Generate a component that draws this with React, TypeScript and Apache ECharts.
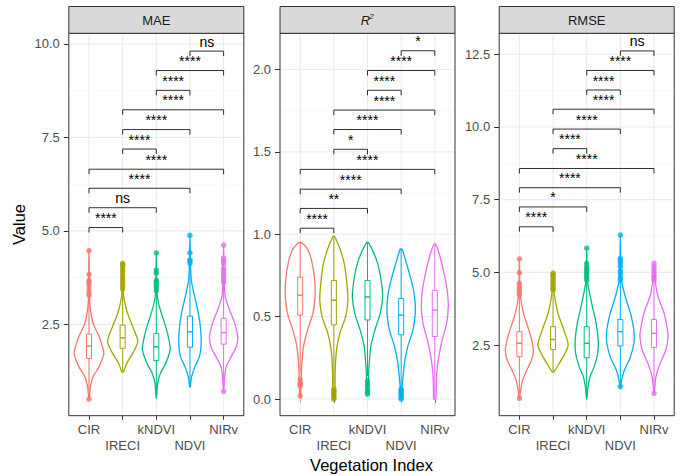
import React, { useEffect, useRef } from 'react';
import * as echarts from 'echarts';

const FONT = 'Liberation Sans, Arial, Helvetica, sans-serif';

const CATS = ['CIR', 'IRECI', 'kNDVI', 'NDVI', 'NIRv'];
const COLORS = ['#F8766D', '#A3A500', '#00BF7D', '#00B0F6', '#E76BF3'];
const FACETS = ['MAE', 'R2', 'RMSE'];

// y ranges of each facet and its breaks
const Y_RANGES = [[0.057, 10.286], [-0.101, 2.22], [0.07, 13.22]];
const Y_MAJOR = [[2.5, 5, 7.5, 10], [0, 0.5, 1, 1.5, 2], [2.5, 5, 7.5, 10, 12.5]];
const Y_MINOR = [[1.25, 3.75, 6.25, 8.75], [0.25, 0.75, 1.25, 1.75], [1.25, 3.75, 6.25, 8.75, 11.25]];

// box stats: [lower whisker, Q1, median, Q3, upper whisker]
const MAE_BOX = [
  [0.7, 1.59, 1.92, 2.24, 3.2],
  [1.23, 1.86, 2.14, 2.48, 3.38],
  [0.52, 1.53, 1.9, 2.26, 3.35],
  [0.85, 1.89, 2.3, 2.72, 3.95],
  [1.0, 1.97, 2.28, 2.66, 3.58],
];
const R2_BOX = [
  [0.16, 0.51, 0.63, 0.74, 0.95],
  [0.08, 0.45, 0.6, 0.72, 0.98],
  [0.14, 0.48, 0.62, 0.72, 0.95],
  [0.07, 0.39, 0.51, 0.61, 0.91],
  [0.0, 0.38, 0.54, 0.66, 0.94],
];
const RMSE_BOX = [
  [0.85, 2.1, 2.56, 2.96, 4.15],
  [1.58, 2.35, 2.69, 3.13, 4.25],
  [0.63, 2.06, 2.56, 3.13, 4.7],
  [1.15, 2.47, 2.96, 3.38, 4.7],
  [1.0, 2.42, 2.9, 3.38, 4.7],
];

// outliers
const MAE_OUT = [
  [3.28, 3.35, 3.45, 3.55, 3.62, 3.68, 3.84, 4.47, 0.5],
  [3.45, 3.52, 3.6, 3.68, 3.75, 3.82, 3.9, 3.97, 4.05, 4.1, 4.13],
  [3.4, 3.48, 3.55, 3.62, 3.68, 3.87, 3.95, 4.41],
  [4.13, 4.2, 4.22, 4.41, 4.88],
  [3.62, 3.7, 3.78, 3.85, 3.92, 4.0, 4.13, 4.2, 4.27, 4.62, 0.71],
];
const R2_OUT = [
  [0.12, 0.1, 0.09, 0.08, 0.02],
  [0.06, 0.05, 0.04, 0.03, 0.02, 0.01, 0.0],
  [0.11, 0.09, 0.07, 0.05, 0.04, 0.03],
  [0.06, 0.05, 0.04, 0.03, 0.02, 0.01, 0.0],
  [],
];
const RMSE_OUT = [
  [4.22, 4.3, 4.4, 4.5, 4.62, 4.99, 5.46, 0.67],
  [4.39, 4.45, 4.5, 4.58, 4.65, 4.72, 4.8, 4.87, 4.93, 4.97],
  [4.74, 4.82, 4.9, 4.98, 5.05, 5.12, 5.2, 5.31, 5.83],
  [4.74, 4.82, 4.95, 5.05, 5.2, 5.31, 5.4, 5.48, 6.28, 1.07],
  [4.74, 4.82, 4.9, 5.0, 5.1, 5.2, 5.31, 0.84],
];

// violin density profiles: [value, relative half width]
const MAE_VIOLIN = [
  [[0.5, 0], [0.83, 0.09], [1.1, 0.27], [1.37, 0.67], [1.73, 0.98], [2.17, 0.67], [2.53, 0.27], [2.97, 0.07], [3.3, 0.03], [3.9, 0.015], [4.47, 0]],
  [[1.23, 0.05], [1.46, 0.27], [1.73, 0.67], [2.04, 1.0], [2.44, 0.67], [2.79, 0.33], [3.24, 0.07], [3.7, 0.03], [4.13, 0]],
  [[0.52, 0], [0.92, 0.09], [1.19, 0.27], [1.46, 0.62], [1.81, 0.91], [2.08, 0.84], [2.44, 0.62], [2.88, 0.27], [3.24, 0.07], [3.8, 0.02], [4.41, 0]],
  [[0.83, 0.02], [1.1, 0.11], [1.37, 0.33], [1.63, 0.62], [1.9, 0.73], [2.35, 0.71], [2.79, 0.56], [3.24, 0.31], [3.68, 0.09], [4.2, 0.03], [4.88, 0]],
  [[0.71, 0], [1.1, 0.07], [1.37, 0.18], [1.63, 0.49], [1.9, 0.84], [2.17, 0.93], [2.53, 0.73], [2.88, 0.4], [3.24, 0.11], [3.8, 0.03], [4.62, 0]],
];
const R2_VIOLIN = [
  [[0.01, 0.02], [0.14, 0.07], [0.22, 0.11], [0.32, 0.22], [0.42, 0.49], [0.52, 0.84], [0.62, 0.98], [0.72, 0.96], [0.83, 0.78], [0.91, 0.49], [0.95, 0.08]],
  [[0.0, 0.02], [0.05, 0.07], [0.18, 0.09], [0.3, 0.18], [0.4, 0.4], [0.5, 0.78], [0.6, 0.93], [0.72, 0.84], [0.83, 0.67], [0.93, 0.33], [0.99, 0.03]],
  [[0.03, 0.02], [0.06, 0.04], [0.18, 0.09], [0.32, 0.22], [0.42, 0.49], [0.52, 0.84], [0.62, 1.0], [0.7, 0.93], [0.81, 0.71], [0.89, 0.4], [0.95, 0.06]],
  [[0.0, 0.02], [0.08, 0.07], [0.12, 0.11], [0.22, 0.22], [0.32, 0.44], [0.42, 0.78], [0.52, 0.93], [0.62, 0.89], [0.72, 0.67], [0.83, 0.33], [0.91, 0.06]],
  [[0.0, 0.07], [0.05, 0.09], [0.16, 0.13], [0.26, 0.27], [0.36, 0.49], [0.46, 0.78], [0.56, 0.89], [0.66, 0.82], [0.76, 0.62], [0.87, 0.33], [0.94, 0.06]],
];
const RMSE_VIOLIN = [
  [[0.67, 0], [0.95, 0.09], [1.3, 0.22], [1.64, 0.49], [1.98, 0.8], [2.33, 0.93], [2.7, 0.8], [3.02, 0.62], [3.59, 0.27], [4.16, 0.07], [4.8, 0.02], [5.46, 0]],
  [[1.58, 0.06], [1.75, 0.27], [2.1, 0.67], [2.5, 1.0], [3.02, 0.71], [3.59, 0.33], [4.28, 0.07], [4.97, 0]],
  [[0.63, 0], [1.07, 0.09], [1.41, 0.22], [1.75, 0.49], [2.21, 0.73], [2.67, 0.76], [3.25, 0.62], [3.93, 0.33], [4.62, 0.07], [5.2, 0.02], [5.83, 0]],
  [[1.07, 0.02], [1.3, 0.09], [1.64, 0.27], [2.1, 0.67], [2.56, 0.89], [3.02, 0.89], [3.59, 0.67], [4.16, 0.33], [4.74, 0.07], [5.5, 0.02], [6.28, 0]],
  [[0.84, 0], [1.41, 0.13], [1.87, 0.4], [2.33, 0.78], [2.79, 0.93], [3.02, 0.89], [3.59, 0.67], [4.16, 0.27], [4.74, 0.07], [5.31, 0]],
];

// pairwise comparisons (category positions 1..5)
const PAIRS = [[1, 2], [1, 3], [1, 4], [1, 5], [2, 3], [2, 4], [2, 5], [3, 4], [3, 5], [4, 5]];
const MAE_BRACKET_Y = [5.09, 5.62, 6.14, 6.65, 7.19, 7.71, 8.24, 8.76, 9.29, 9.81];
const R2_BRACKET_Y = [1.037, 1.157, 1.274, 1.394, 1.516, 1.636, 1.754, 1.874, 1.994, 2.114];
const RMSE_BRACKET_Y = [6.566, 7.249, 7.91, 8.571, 9.254, 9.926, 10.609, 11.27, 11.942, 12.614];
const MAE_LABELS = ['****', 'ns', '****', '****', '****', '****', '****', '****', '****', 'ns'];
const R2_LABELS = ['****', '**', '****', '****', '*', '****', '****', '****', '****', '*'];
const RMSE_LABELS = ['****', '*', '****', '****', '****', '****', '****', '****', '****', 'ns'];

const BOXES = [MAE_BOX, R2_BOX, RMSE_BOX];
const OUTS = [MAE_OUT, R2_OUT, RMSE_OUT];
const VIOLINS = [MAE_VIOLIN, R2_VIOLIN, RMSE_VIOLIN];
const BRACKET_Y = [MAE_BRACKET_Y, R2_BRACKET_Y, RMSE_BRACKET_Y];
const LABELS = [MAE_LABELS, R2_LABELS, RMSE_LABELS];

// layout
const PANEL_LEFT = [68.8, 280, 499.2];
const PANEL_W = 175;
const PANEL_TOP = 33.3;
const PANEL_H = 382.4;
const STRIP_TOP = 6.5;
const HALF = 0.45;
const BOXW = 0.075;
const TIP = 5;

function buildOption() {
  const grids: any[] = [];
  const xAxes: any[] = [];
  const yAxes: any[] = [];
  const series: any[] = [];
  const graphics: any[] = [];
  const xs = CATS.map((_, i) => i + 1);

  for (let p = 0; p < 3; p++) {
    grids.push({
      left: PANEL_LEFT[p], top: PANEL_TOP, width: PANEL_W, height: PANEL_H,
      show: true, borderColor: '#333333', borderWidth: 1, backgroundColor: '#FFFFFF',
    });
    xAxes.push({
      type: 'value', gridIndex: p, min: 0.4, max: 5.6,
      axisLine: { show: false },
      splitLine: { show: false },
      axisTick: { show: true, length: 4, customValues: xs, lineStyle: { color: '#333333', width: 1 } },
      axisLabel: {
        customValues: xs,
        formatter: (v: number) => {
          const i = Math.round(v) - 1;
          return i % 2 === 1 ? '\n' + CATS[i] : CATS[i];
        },
        color: '#4D4D4D', fontSize: 13, fontFamily: FONT, margin: 5, lineHeight: 16.7,
        verticalAlign: 'top',
      },
    });
    yAxes.push({
      type: 'value', gridIndex: p, min: Y_RANGES[p][0], max: Y_RANGES[p][1],
      axisLine: { show: false },
      splitLine: { show: false },
      axisTick: { show: true, length: 5, customValues: Y_MAJOR[p], lineStyle: { color: '#333333', width: 1 } },
      axisLabel: {
        customValues: Y_MAJOR[p],
        formatter: (v: number) => v.toFixed(1),
        color: '#4D4D4D', fontSize: 13, fontFamily: FONT, margin: 9,
      },
    });

    const base = { xAxisIndex: p, yAxisIndex: p };

    // background grid lines
    series.push({
      ...base, type: 'custom', z: 1, silent: true,
      data: [[3, Y_MAJOR[p][1]]],
      renderItem: (params: any, api: any) => {
        const cs = params.coordSys;
        const x0 = cs.x + 1, x1 = cs.x + cs.width - 1, y0 = cs.y + 1, y1 = cs.y + cs.height - 1;
        const children: any[] = [];
        Y_MINOR[p].forEach((v) => {
          const y = api.coord([1, v])[1];
          children.push({ type: 'line', shape: { x1: x0, y1: y, x2: x1, y2: y }, style: { stroke: '#F2F2F2', lineWidth: 0.6 } });
        });
        Y_MAJOR[p].forEach((v) => {
          const y = api.coord([1, v])[1];
          children.push({ type: 'line', shape: { x1: x0, y1: y, x2: x1, y2: y }, style: { stroke: '#EBEBEB', lineWidth: 1.1 } });
        });
        xs.forEach((c) => {
          const x = api.coord([c, Y_MAJOR[p][0]])[0];
          children.push({ type: 'line', shape: { x1: x, y1: y0, x2: x, y2: y1 }, style: { stroke: '#EBEBEB', lineWidth: 1.1 } });
        });
        return { type: 'group', children };
      },
    });

    // violins
    series.push({
      ...base, type: 'custom', z: 3, silent: true,
      data: xs.map((x, i) => [x, BOXES[p][i][2]]),
      renderItem: (params: any, api: any) => {
        const i = params.dataIndex;
        const prof = VIOLINS[p][i];
        const x = i + 1;
        const pts: number[][] = [];
        prof.forEach(([v, w]) => pts.push(api.coord([x - w * HALF, v])));
        for (let k = prof.length - 1; k >= 0; k--) {
          const [v, w] = prof[k];
          if (w > 0) pts.push(api.coord([x + w * HALF, v]));
        }
        return {
          type: 'polygon',
          shape: { points: pts, smooth: 0.25 },
          style: { fill: 'none', stroke: COLORS[i], lineWidth: 1.3 },
        };
      },
    });

    // boxplots
    series.push({
      ...base, type: 'custom', z: 4, silent: true,
      data: xs.map((x, i) => [x, BOXES[p][i][2]]),
      renderItem: (params: any, api: any) => {
        const i = params.dataIndex;
        const [lo, q1, med, q3, hi] = BOXES[p][i];
        const x = i + 1;
        const xc = api.coord([x, med])[0];
        const xl = api.coord([x - BOXW, med])[0];
        const xr = api.coord([x + BOXW, med])[0];
        const Y = (v: number) => api.coord([x, v])[1];
        const st = { stroke: COLORS[i], lineWidth: 1 };
        return {
          type: 'group',
          children: [
            { type: 'line', shape: { x1: xc, y1: Y(hi), x2: xc, y2: Y(q3) }, style: st },
            { type: 'line', shape: { x1: xc, y1: Y(q1), x2: xc, y2: Y(lo) }, style: st },
            { type: 'rect', shape: { x: xl, y: Y(q3), width: xr - xl, height: Y(q1) - Y(q3) }, style: { ...st, fill: '#FFFFFF' } },
            { type: 'line', shape: { x1: xl, y1: Y(med), x2: xr, y2: Y(med) }, style: { stroke: COLORS[i], lineWidth: 1.4 } },
          ],
        };
      },
    });

    // outliers
    const outData: any[] = [];
    OUTS[p].forEach((arr, i) => arr.forEach((v) => outData.push({ value: [i + 1, v], itemStyle: { color: COLORS[i] } })));
    series.push({
      ...base, type: 'scatter', z: 5, silent: true, symbol: 'circle', symbolSize: 5.5,
      data: outData,
    });

    // significance brackets
    series.push({
      ...base, type: 'custom', z: 6, silent: true,
      data: PAIRS.map((pr, k) => [(pr[0] + pr[1]) / 2, BRACKET_Y[p][k]]),
      renderItem: (params: any, api: any) => {
        const k = params.dataIndex;
        const [a, b] = PAIRS[k];
        const yv = BRACKET_Y[p][k];
        const p1 = api.coord([a, yv]);
        const p2 = api.coord([b, yv]);
        return {
          type: 'group',
          children: [
            {
              type: 'polyline',
              shape: { points: [[p1[0], p1[1] + TIP], [p1[0], p1[1]], [p2[0], p2[1]], [p2[0], p2[1] + TIP]] },
              style: { stroke: '#1A1A1A', lineWidth: 0.9, fill: 'none' },
            },
            {
              type: 'text',
              x: (p1[0] + p2[0]) / 2,
              y: p1[1] - 9.5,
              style: {
                text: LABELS[p][k], align: 'center', verticalAlign: 'middle',
                fontSize: 14, fontFamily: FONT, fill: '#000000',
              },
            },
          ],
        };
      },
    });

    // strip
    graphics.push({
      type: 'rect', silent: true,
      shape: { x: PANEL_LEFT[p], y: STRIP_TOP, width: PANEL_W, height: PANEL_TOP - STRIP_TOP },
      style: { fill: '#D9D9D9', stroke: '#333333', lineWidth: 1 },
    });
    const cx = PANEL_LEFT[p] + PANEL_W / 2;
    const cy = (STRIP_TOP + PANEL_TOP) / 2;
    if (FACETS[p] === 'R2') {
      graphics.push({
        type: 'text', silent: true, x: cx - 2, y: cy + 1,
        style: { text: 'R', align: 'center', verticalAlign: 'middle', fontSize: 13, fontStyle: 'italic', fontFamily: FONT, fill: '#1A1A1A' },
      });
      graphics.push({
        type: 'text', silent: true, x: cx + 4, y: cy - 3,
        style: { text: '2', align: 'center', verticalAlign: 'middle', fontSize: 8, fontStyle: 'italic', fontFamily: FONT, fill: '#1A1A1A' },
      });
    } else {
      graphics.push({
        type: 'text', silent: true, x: cx, y: cy + 1,
        style: { text: FACETS[p], align: 'center', verticalAlign: 'middle', fontSize: 13, fontFamily: FONT, fill: '#1A1A1A' },
      });
    }
  }

  graphics.push({
    type: 'text', silent: true, x: 19, y: PANEL_TOP + PANEL_H / 2, rotation: Math.PI / 2,
    style: { text: 'Value', align: 'center', verticalAlign: 'middle', fontSize: 16.5, fontFamily: FONT, fill: '#000000' },
  });
  graphics.push({
    type: 'text', silent: true, x: (PANEL_LEFT[0] + PANEL_LEFT[2] + PANEL_W) / 2, y: 465,
    style: { text: 'Vegetation Index', align: 'center', verticalAlign: 'middle', fontSize: 16.5, fontFamily: FONT, fill: '#000000' },
  });

  return {
    animation: false,
    backgroundColor: '#FFFFFF',
    textStyle: { fontFamily: FONT },
    grid: grids,
    xAxis: xAxes,
    yAxis: yAxes,
    series,
    graphic: graphics,
  };
}

export default function App() {
  const ref = useRef<HTMLDivElement>(null);
  useEffect(() => {
    if (!ref.current) return;
    const chart = echarts.init(ref.current, undefined, { renderer: 'svg' });
    chart.setOption(buildOption() as any);
    return () => chart.dispose();
  }, []);
  return (
    <div
      ref={ref}
      style={{ position: 'fixed', left: 0, top: 0, width: 683, height: 476, background: '#FFFFFF' }}
    />
  );
}
